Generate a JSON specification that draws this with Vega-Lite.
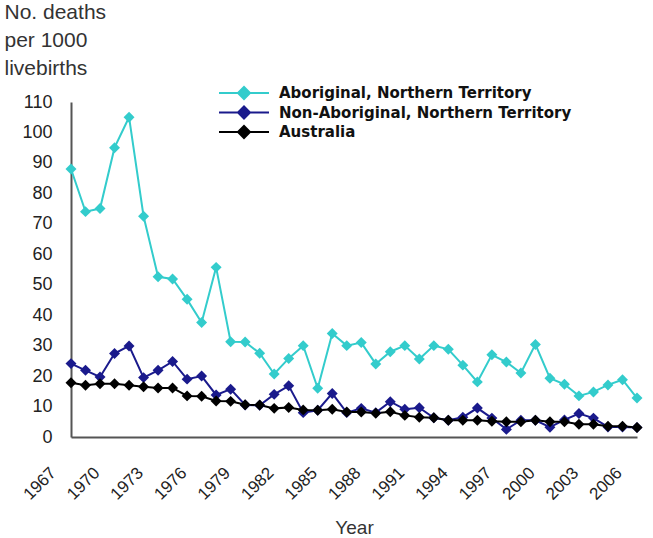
{
  "$schema": "https://vega.github.io/schema/vega-lite/v6.json",
  "width": 566,
  "height": 335,
  "autosize": "none",
  "padding": {"left": 71, "top": 102, "right": 16, "bottom": 101},
  "background": "white",
  "config": {
    "view": {"stroke": null},
    "font": "Liberation Sans"
  },
  "data": {
    "values": [
      {"series": "Aboriginal, Northern Territory", "year": 1967, "rate": 88},
      {"series": "Aboriginal, Northern Territory", "year": 1968, "rate": 74},
      {"series": "Aboriginal, Northern Territory", "year": 1969, "rate": 75},
      {"series": "Aboriginal, Northern Territory", "year": 1970, "rate": 95},
      {"series": "Aboriginal, Northern Territory", "year": 1971, "rate": 105},
      {"series": "Aboriginal, Northern Territory", "year": 1972, "rate": 72.5},
      {"series": "Aboriginal, Northern Territory", "year": 1973, "rate": 52.6},
      {"series": "Aboriginal, Northern Territory", "year": 1974, "rate": 51.9},
      {"series": "Aboriginal, Northern Territory", "year": 1975, "rate": 45.2},
      {"series": "Aboriginal, Northern Territory", "year": 1976, "rate": 37.6},
      {"series": "Aboriginal, Northern Territory", "year": 1977, "rate": 55.7},
      {"series": "Aboriginal, Northern Territory", "year": 1978, "rate": 31.3},
      {"series": "Aboriginal, Northern Territory", "year": 1979, "rate": 31.2},
      {"series": "Aboriginal, Northern Territory", "year": 1980, "rate": 27.5},
      {"series": "Aboriginal, Northern Territory", "year": 1981, "rate": 20.7},
      {"series": "Aboriginal, Northern Territory", "year": 1982, "rate": 25.8},
      {"series": "Aboriginal, Northern Territory", "year": 1983, "rate": 30},
      {"series": "Aboriginal, Northern Territory", "year": 1984, "rate": 16},
      {"series": "Aboriginal, Northern Territory", "year": 1985, "rate": 34},
      {"series": "Aboriginal, Northern Territory", "year": 1986, "rate": 30},
      {"series": "Aboriginal, Northern Territory", "year": 1987, "rate": 31},
      {"series": "Aboriginal, Northern Territory", "year": 1988, "rate": 24},
      {"series": "Aboriginal, Northern Territory", "year": 1989, "rate": 28},
      {"series": "Aboriginal, Northern Territory", "year": 1990, "rate": 30},
      {"series": "Aboriginal, Northern Territory", "year": 1991, "rate": 25.6},
      {"series": "Aboriginal, Northern Territory", "year": 1992, "rate": 30},
      {"series": "Aboriginal, Northern Territory", "year": 1993, "rate": 28.8},
      {"series": "Aboriginal, Northern Territory", "year": 1994, "rate": 23.6},
      {"series": "Aboriginal, Northern Territory", "year": 1995, "rate": 18.1},
      {"series": "Aboriginal, Northern Territory", "year": 1996, "rate": 27},
      {"series": "Aboriginal, Northern Territory", "year": 1997, "rate": 24.6},
      {"series": "Aboriginal, Northern Territory", "year": 1998, "rate": 21},
      {"series": "Aboriginal, Northern Territory", "year": 1999, "rate": 30.4},
      {"series": "Aboriginal, Northern Territory", "year": 2000, "rate": 19.3},
      {"series": "Aboriginal, Northern Territory", "year": 2001, "rate": 17.3},
      {"series": "Aboriginal, Northern Territory", "year": 2002, "rate": 13.5},
      {"series": "Aboriginal, Northern Territory", "year": 2003, "rate": 14.8},
      {"series": "Aboriginal, Northern Territory", "year": 2004, "rate": 17.1},
      {"series": "Aboriginal, Northern Territory", "year": 2005, "rate": 18.8},
      {"series": "Aboriginal, Northern Territory", "year": 2006, "rate": 12.8},
      {"series": "Non-Aboriginal, Northern Territory", "year": 1967, "rate": 24.1},
      {"series": "Non-Aboriginal, Northern Territory", "year": 1968, "rate": 21.9},
      {"series": "Non-Aboriginal, Northern Territory", "year": 1969, "rate": 19.7},
      {"series": "Non-Aboriginal, Northern Territory", "year": 1970, "rate": 27.4},
      {"series": "Non-Aboriginal, Northern Territory", "year": 1971, "rate": 29.9},
      {"series": "Non-Aboriginal, Northern Territory", "year": 1972, "rate": 19.5},
      {"series": "Non-Aboriginal, Northern Territory", "year": 1973, "rate": 21.9},
      {"series": "Non-Aboriginal, Northern Territory", "year": 1974, "rate": 24.8},
      {"series": "Non-Aboriginal, Northern Territory", "year": 1975, "rate": 19},
      {"series": "Non-Aboriginal, Northern Territory", "year": 1976, "rate": 20},
      {"series": "Non-Aboriginal, Northern Territory", "year": 1977, "rate": 13.8},
      {"series": "Non-Aboriginal, Northern Territory", "year": 1978, "rate": 15.7},
      {"series": "Non-Aboriginal, Northern Territory", "year": 1979, "rate": 10.5},
      {"series": "Non-Aboriginal, Northern Territory", "year": 1980, "rate": 10.4},
      {"series": "Non-Aboriginal, Northern Territory", "year": 1981, "rate": 14},
      {"series": "Non-Aboriginal, Northern Territory", "year": 1982, "rate": 16.8},
      {"series": "Non-Aboriginal, Northern Territory", "year": 1983, "rate": 8},
      {"series": "Non-Aboriginal, Northern Territory", "year": 1984, "rate": 8.8},
      {"series": "Non-Aboriginal, Northern Territory", "year": 1985, "rate": 14.3},
      {"series": "Non-Aboriginal, Northern Territory", "year": 1986, "rate": 8},
      {"series": "Non-Aboriginal, Northern Territory", "year": 1987, "rate": 9.4},
      {"series": "Non-Aboriginal, Northern Territory", "year": 1988, "rate": 8},
      {"series": "Non-Aboriginal, Northern Territory", "year": 1989, "rate": 11.6},
      {"series": "Non-Aboriginal, Northern Territory", "year": 1990, "rate": 9.1},
      {"series": "Non-Aboriginal, Northern Territory", "year": 1991, "rate": 9.6},
      {"series": "Non-Aboriginal, Northern Territory", "year": 1992, "rate": 6.3},
      {"series": "Non-Aboriginal, Northern Territory", "year": 1993, "rate": 5.5},
      {"series": "Non-Aboriginal, Northern Territory", "year": 1994, "rate": 6.5},
      {"series": "Non-Aboriginal, Northern Territory", "year": 1995, "rate": 9.5},
      {"series": "Non-Aboriginal, Northern Territory", "year": 1996, "rate": 6.2},
      {"series": "Non-Aboriginal, Northern Territory", "year": 1997, "rate": 2.5},
      {"series": "Non-Aboriginal, Northern Territory", "year": 1998, "rate": 5.5},
      {"series": "Non-Aboriginal, Northern Territory", "year": 1999, "rate": 5.5},
      {"series": "Non-Aboriginal, Northern Territory", "year": 2000, "rate": 3.2},
      {"series": "Non-Aboriginal, Northern Territory", "year": 2001, "rate": 5.6},
      {"series": "Non-Aboriginal, Northern Territory", "year": 2002, "rate": 7.7},
      {"series": "Non-Aboriginal, Northern Territory", "year": 2003, "rate": 6.2},
      {"series": "Non-Aboriginal, Northern Territory", "year": 2004, "rate": 3.3},
      {"series": "Non-Aboriginal, Northern Territory", "year": 2005, "rate": 3.3},
      {"series": "Non-Aboriginal, Northern Territory", "year": 2006, "rate": 3.1},
      {"series": "Australia", "year": 1967, "rate": 17.8},
      {"series": "Australia", "year": 1968, "rate": 17},
      {"series": "Australia", "year": 1969, "rate": 17.5},
      {"series": "Australia", "year": 1970, "rate": 17.5},
      {"series": "Australia", "year": 1971, "rate": 17},
      {"series": "Australia", "year": 1972, "rate": 16.5},
      {"series": "Australia", "year": 1973, "rate": 16.1},
      {"series": "Australia", "year": 1974, "rate": 16.1},
      {"series": "Australia", "year": 1975, "rate": 13.5},
      {"series": "Australia", "year": 1976, "rate": 13.4},
      {"series": "Australia", "year": 1977, "rate": 11.8},
      {"series": "Australia", "year": 1978, "rate": 11.7},
      {"series": "Australia", "year": 1979, "rate": 10.6},
      {"series": "Australia", "year": 1980, "rate": 10.5},
      {"series": "Australia", "year": 1981, "rate": 9.4},
      {"series": "Australia", "year": 1982, "rate": 9.7},
      {"series": "Australia", "year": 1983, "rate": 8.9},
      {"series": "Australia", "year": 1984, "rate": 8.8},
      {"series": "Australia", "year": 1985, "rate": 9.1},
      {"series": "Australia", "year": 1986, "rate": 8.2},
      {"series": "Australia", "year": 1987, "rate": 8.2},
      {"series": "Australia", "year": 1988, "rate": 7.8},
      {"series": "Australia", "year": 1989, "rate": 8.3},
      {"series": "Australia", "year": 1990, "rate": 7.1},
      {"series": "Australia", "year": 1991, "rate": 6.5},
      {"series": "Australia", "year": 1992, "rate": 6.3},
      {"series": "Australia", "year": 1993, "rate": 5.5},
      {"series": "Australia", "year": 1994, "rate": 5.5},
      {"series": "Australia", "year": 1995, "rate": 5.5},
      {"series": "Australia", "year": 1996, "rate": 5.2},
      {"series": "Australia", "year": 1997, "rate": 5},
      {"series": "Australia", "year": 1998, "rate": 5},
      {"series": "Australia", "year": 1999, "rate": 5.5},
      {"series": "Australia", "year": 2000, "rate": 5},
      {"series": "Australia", "year": 2001, "rate": 5},
      {"series": "Australia", "year": 2002, "rate": 4.2},
      {"series": "Australia", "year": 2003, "rate": 4.2},
      {"series": "Australia", "year": 2004, "rate": 3.5},
      {"series": "Australia", "year": 2005, "rate": 3.5},
      {"series": "Australia", "year": 2006, "rate": 3.1}
    ]
  },
  "encoding": {
    "x": {
      "field": "year",
      "type": "quantitative",
      "scale": {"domain": [1967, 2006], "nice": false, "zero": false},
      "axis": {
        "title": "Year",
        "values": [1967, 1970, 1973, 1976, 1979, 1982, 1985, 1988, 1991, 1994, 1997, 2000, 2003, 2006],
        "format": "d",
        "grid": false,
        "ticks": false,
        "tickSize": 0,
        "domainColor": "#555555",
        "domainWidth": 2,
        "labelAngle": -45,
        "labelAlign": "right",
        "labelBaseline": "middle",
        "labelOffset": -18,
        "labelPadding": 33,
        "labelFontSize": 17,
        "labelColor": "#222222",
        "labelFlush": false,
        "labelOverlap": false,
        "titleFontSize": 19,
        "titleFontWeight": "normal",
        "titleColor": "#333333",
        "titleBaseline": "alphabetic",
        "titleY": 96
      }
    },
    "y": {
      "field": "rate",
      "type": "quantitative",
      "scale": {"domain": [0, 110], "nice": false},
      "axis": {
        "title": ["No. deaths", "per 1000", "livebirths"],
        "values": [0, 10, 20, 30, 40, 50, 60, 70, 80, 90, 100, 110],
        "grid": false,
        "ticks": false,
        "tickSize": 0,
        "domainColor": "#555555",
        "domainWidth": 2,
        "labelPadding": 19,
        "labelFontSize": 18,
        "labelColor": "#222222",
        "labelFlush": false,
        "labelOverlap": false,
        "titleAngle": 0,
        "titleAlign": "left",
        "titleBaseline": "alphabetic",
        "titleX": -67,
        "titleY": -84,
        "titleLineHeight": 28,
        "titleFontSize": 21,
        "titleFontWeight": "normal",
        "titleColor": "#333333"
      }
    }
  },
  "layer": [
    {
      "mark": {"type": "line", "strokeWidth": 2},
      "encoding": {
        "stroke": {
          "field": "series",
          "type": "nominal",
          "scale": {
            "domain": ["Aboriginal, Northern Territory", "Non-Aboriginal, Northern Territory", "Australia"],
            "range": ["#33cccc", "#1a1a8c", "#000000"]
          },
          "legend": {
            "title": null,
            "orient": "none",
            "legendX": 164,
            "legendY": -18,
            "padding": 0,
            "rowPadding": -0.5,
            "symbolType": "M-3.125,0L3.125,0M-0.75,0L0,-0.75L0.75,0L0,0.75Z",
            "symbolSize": 256,
            "symbolStrokeWidth": 2,
            "labelOffset": 26,
            "labelFont": "DejaVu Sans",
            "labelFontWeight": "bold",
            "labelFontSize": 15,
            "labelColor": "#111111",
            "labelLimit": 400
          }
        }
      }
    },
    {
      "mark": {"type": "point", "shape": "diamond", "filled": true, "size": 120, "opacity": 1},
      "encoding": {
        "fill": {
          "field": "series",
          "type": "nominal",
          "scale": {
            "domain": ["Aboriginal, Northern Territory", "Non-Aboriginal, Northern Territory", "Australia"],
            "range": ["#33cccc", "#1a1a8c", "#000000"]
          },
          "legend": {
            "title": null,
            "orient": "none",
            "legendX": 164,
            "legendY": -18,
            "padding": 0,
            "rowPadding": -0.5,
            "symbolType": "M-3.125,0L3.125,0M-0.75,0L0,-0.75L0.75,0L0,0.75Z",
            "symbolSize": 256,
            "symbolStrokeWidth": 2,
            "labelOffset": 26,
            "labelFont": "DejaVu Sans",
            "labelFontWeight": "bold",
            "labelFontSize": 15,
            "labelColor": "#111111",
            "labelLimit": 400
          }
        }
      }
    }
  ]
}
